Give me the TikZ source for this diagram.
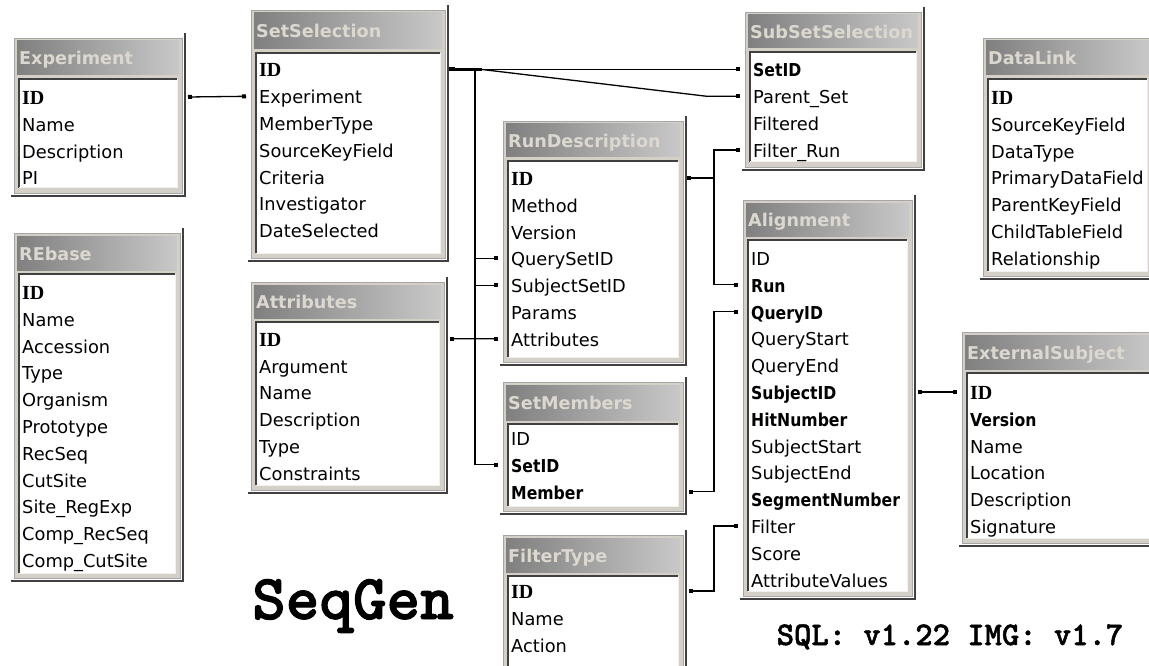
\documentclass[tikz,border=0pt]{standalone}
\usepackage{fontspec}
\setmainfont{DejaVu Sans}
\newfontfamily\keyfont{Liberation Serif}
\newfontfamily\bnarrow[FakeStretch=0.88]{DejaVu Sans}
\newfontfamily\monoheavy[FakeBold=1.5]{lmmonolt10-bold.otf}
\usetikzlibrary{arrows.meta}
\definecolor{face}{HTML}{D4D0C8}
\definecolor{hdrL}{HTML}{808080}
\definecolor{hdrR}{HTML}{C8C8C8}
\definecolor{hdrtxt}{HTML}{DCD8D0}
\definecolor{shadowc}{HTML}{404040}
\newcommand\kid{{\fontsize{20}{20}\selectfont\keyfont\bfseries ID}}
\newcommand\kb[1]{{\bnarrow\bfseries #1}}
\tikzset{
  fld/.style={anchor=west,inner sep=0pt,text height=16pt,text depth=1pt,font=\fontsize{17.8}{20}\selectfont},
  hdr/.style={anchor=west,inner sep=0pt,text height=16pt,text depth=1pt,text=hdrtxt,font=\fontsize{17.6}{20}\selectfont\bfseries},
  shadowline/.style={draw=shadowc,line width=2.2pt},
  innerdark/.style={draw=shadowc,line width=1.6pt},
  rel/.style={draw=black,line width=1.3pt},
  sq/.style={-{Square[length=4pt,width=4pt]}},
  sqsq/.style={{Square[length=4pt,width=4pt]}-{Square[length=4pt,width=4pt]}}
}
% id, title, L, T, R, H, B, firstrow, fields
\newcommand\dbtable[9]{%
  \fill[face] (#3,#4) rectangle (#5,#7);
  \draw[draw=gray!70,line width=0.8pt] (#3,#4) rectangle (#5,#7);
  \shade[left color=hdrL,right color=hdrR] ({#3+3},{#4+3}) rectangle ({#5-3},#6);
  \node[hdr] (#1-t) at ({#3+5},{(#4+#6)/2+1}) {#2};
  \fill[white] ({#3+5},{#6+4}) rectangle ({#5-5},{#7-5});
  \draw[innerdark] ({#3+5},{#7-5}) |- ({#5-5},{#6+4});
  \draw[draw=white!70!face,line width=1pt] ({#3+5},{#7-5}) -| ({#5-5},{#6+4});
  \draw[shadowline] ({#5+3},{#4-5}) -- ({#5+3},{#7+3}) -- ({#3-3},{#7+3});
  \coordinate (#1-l) at ({#3-5},#4);
  \coordinate (#1-r) at ({#5+6},#4);
  \foreach \txt [count=\i] in {#9} {\node[fld] (#1-\i) at ({#3+8},{#8+26.8*(\i-1)}) {\txt};}
}
\begin{document}
\begin{tikzpicture}[x=1pt,y=-1pt]
\useasboundingbox (0,0) rectangle (1149,666);
\fill[white] (0,0) rectangle (1149,666);

\dbtable{exp}{Experiment}{14}{38}{182}{75}{193}{97}{\kid, Name, Description, PI}
\dbtable{sel}{SetSelection}{251}{10}{445}{49}{258}{69.5}{\kid, Experiment, MemberType, SourceKeyField, Criteria, Investigator, DateSelected}
\dbtable{sub}{SubSetSelection}{745}{12}{921}{48}{167}{69.5}{\kb{SetID}, Parent\_Set, Filtered, Filter\_Run}
\dbtable{dl}{DataLink}{983}{38}{1152}{75}{276}{97}{\kid, SourceKeyField, DataType, PrimaryDataField, ParentKeyField, ChildTableField, Relationship}
\dbtable{run}{RunDescription}{503}{121}{683}{157}{362}{178}{\kid, Method, Version, QuerySetID, SubjectSetID, Params, Attributes}
\dbtable{ali}{Alignment}{743}{200}{912}{236}{596}{258}{ID, \kb{Run}, \kb{QueryID}, QueryStart, QueryEnd, \kb{SubjectID}, \kb{HitNumber}, SubjectStart, SubjectEnd, \kb{SegmentNumber}, Filter, Score, AttributeValues}
\dbtable{ext}{ExternalSubject}{962}{332}{1158}{369}{543}{392}{\kid, \kb{Version}, Name, Location, Description, Signature}
\dbtable{reb}{REbase}{14}{233}{180}{270}{578}{292}{\kid, Name, Accession, Type, Organism, Prototype, RecSeq, CutSite, Site\_RegExp, Comp\_RecSeq, Comp\_CutSite}
\dbtable{att}{Attributes}{251}{282}{444}{318}{490}{338.8}{\kid, Argument, Name, Description, Type, Constraints}
\dbtable{sm}{SetMembers}{503}{382}{683}{420}{511}{438}{ID, \kb{SetID}, \kb{Member}}
\dbtable{ft}{FilterType}{503}{535}{683}{572}{672}{591}{\kid, Name, Action}

% bus coordinates
\coordinate (bus1) at (475,0);
\coordinate (bus2) at (714,0);
\coordinate (split) at (482,69.5);
\coordinate (bend) at (707,96.3);

% relationships
\draw[rel,sqsq] (exp-r |- exp-1) -- (sel-l |- sel-2);
\draw[rel,sqsq] (sel-r |- sel-1) -- (sub-l |- sub-1);
\draw[rel,sq] (split) -- (bend) -- (sub-l |- sub-2);
\draw[rel,sq] (sel-r |- sel-1) -| (bus1 |- run-4) -- (run-l |- run-4);
\draw[rel,sq] (bus1 |- run-4) -- (bus1 |- run-5) -- (run-l |- run-5);
\draw[rel,sq] (bus1 |- run-5) -- (bus1 |- sm-2) -- (sm-l |- sm-2);
\draw[rel,sqsq] (att-r |- att-1) -- (run-l |- run-7);
\draw[rel,sq] (run-r |- run-1) -| (bus2 |- sub-4) -- (sub-l |- sub-4);
\draw[rel,sq] (run-r |- run-1) -| (bus2 |- ali-2) -- (ali-l |- ali-2);
\draw[rel,sqsq] (sm-r |- sm-3) -| (bus2 |- ali-3) -- (ali-l |- ali-3);
\draw[rel,sqsq] (ft-r |- ft-1) -| (bus2 |- ali-11) -- (ali-l |- ali-11);
\draw[rel,sqsq] (ali-r |- ali-6) -- (ext-l |- ext-1);
\draw[line width=2.2pt] (sel-r |- sel-1) -- (split);
\fill (sel-r |- sel-1) +(-2,-2) rectangle +(2,2);
\fill (run-r |- run-1) +(-2,-2) rectangle +(2,2);

% labels
\node[anchor=base,inner sep=0pt] (seqgen) at (353,619) {\fontsize{64}{68}\selectfont\monoheavy SeqGen};
\node[anchor=base,inner sep=0pt] (version) at (950,645) {\fontsize{33}{36}\selectfont\monoheavy SQL: v1.22 IMG: v1.7};
\end{tikzpicture}
\end{document}
